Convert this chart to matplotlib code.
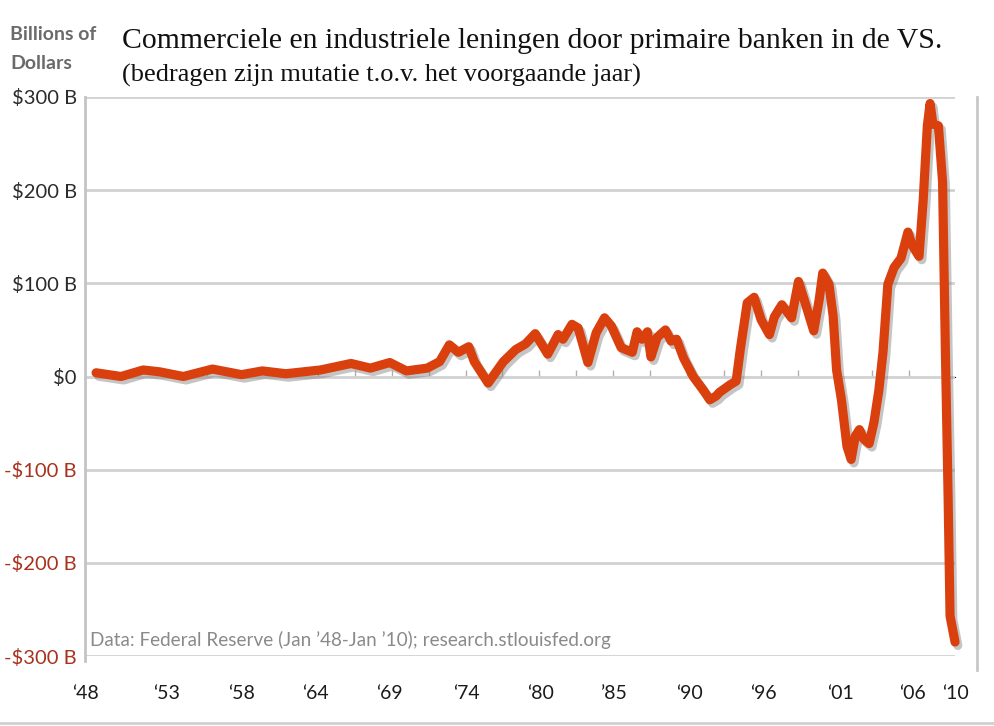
import matplotlib
matplotlib.use('Agg')
import matplotlib.pyplot as plt
import matplotlib.patheffects as pe
from matplotlib.lines import Line2D

# year (fractional) and change vs. previous year, billions of dollars
years = [1948.0, 1949.8, 1951.4, 1952.6, 1954.3, 1956.4, 1958.5, 1960.0, 1961.7,
         1964.2, 1966.4, 1967.8, 1969.2, 1970.4, 1971.9, 1972.8, 1973.5, 1974.15,
         1974.9, 1975.3, 1976.3, 1977.4, 1978.3, 1979.0, 1979.7, 1980.6, 1981.35,
         1981.7, 1982.35, 1982.8, 1983.5, 1984.1, 1984.7, 1985.2, 1985.9, 1986.7,
         1987.05, 1987.4, 1987.8, 1988.05, 1988.5, 1989.1, 1989.5, 1989.9, 1990.4,
         1991.1, 1991.8, 1992.3, 1992.75, 1993.0, 1993.75, 1994.2, 1994.5, 1995.0,
         1995.5, 1996.0, 1996.6, 1996.96, 1997.5, 1998.2, 1998.7, 1999.1, 1999.8,
         2000.2, 2000.45, 2000.9, 2001.2, 2001.45, 2001.8, 2002.2, 2002.5, 2002.8,
         2003.1, 2003.4, 2003.8, 2004.15, 2004.5, 2004.8, 2005.15, 2005.6, 2006.1,
         2006.6, 2006.9, 2007.4, 2007.7, 2008.0, 2008.2, 2008.4, 2008.8, 2009.1,
         2009.3, 2009.5, 2009.64, 2010.0]
change = [4, 0, 7, 5, 0, 8, 2, 6, 3,
          7, 14, 9, 15, 6, 9, 16, 34, 26,
          32, 16, -7, 16, 29, 35, 46, 24, 45,
          40, 56, 52, 15, 47, 63, 54, 31, 26,
          48, 40, 48, 21, 42, 50, 38, 40, 20,
          0, -14, -25, -21, -17, -9, -5, 29, 79,
          85, 61, 45, 64, 77, 63, 102, 83, 49,
          83, 111, 99, 65, 7, -25, -75, -89, -64,
          -57, -67, -72, -49, -15, 26, 99, 117, 127,
          155, 141, 129, 189, 269, 293, 271, 269, 209,
          30, -129, -257, -285]

y_ticks = [300, 200, 100, 0, -100, -200, -300]
y_labels = ['$300 B', '$200 B', '$100 B', '$0', '-$100 B', '-$200 B', '-$300 B']
x_label_pos = [1947.2, 1953.1, 1958.5, 1963.8, 1969.2, 1974.7, 1980.1, 1985.4,
               1990.8, 1996.2, 2001.7, 2006.9, 2010.0]
x_labels = ['\u201848', '\u201853', '\u201858', '\u201864', '\u201869', '\u201874',
            '\u201880', '\u201985', '\u201890', '\u201896', '\u201801', '\u201806',
            '\u201810']

fig = plt.figure(figsize=(9.94, 7.26), dpi=100)
ax = fig.add_axes([0.0855, 0.0964, 0.8753, 0.7700])

line_color = '#d9400e'
grid_color = '#d2d2d2'

ax.plot(years, change, color=line_color, lw=6.6, solid_capstyle='round',
        solid_joinstyle='round', clip_on=False,
        path_effects=[pe.SimpleLineShadow(offset=(2, -2.5), shadow_color='#808080', alpha=0.45),
                      pe.Normal()], zorder=3)

ax.set_xlim(1948, 2010)
ax.set_ylim(-300, 300)
ax.set_yticks(y_ticks)
ax.set_yticklabels(y_labels, fontsize=14.5, family='Lato')
for lab, v in zip(ax.get_yticklabels(), y_ticks):
    lab.set_color('#a8321e' if v < 0 else '#2b2b2b')
ax.yaxis.grid(True, color=grid_color, lw=2)
ax.tick_params(axis='y', length=0, pad=6)

ax.set_xticks(x_label_pos)
ax.set_xticklabels(x_labels, fontsize=14, family='Lato', color='#1a1a1a')
ax.tick_params(axis='x', length=0, pad=21)

for s in ['top', 'right', 'bottom']:
    ax.spines[s].set_visible(False)
ax.spines['left'].set_color('#c4c4c4')
ax.spines['left'].set_linewidth(2)
ax.spines['left'].set_bounds(-305, 300)

# small ticks on the zero line, every 32 months
sec = ax.secondary_xaxis(0.5)
sec.set_xticks([1948 + k * 8 / 3 for k in range(1, 24)])
sec.set_xticklabels([])
sec.tick_params(length=5, width=1, color='#b0b0b0', direction='out')
sec.spines['bottom'].set_visible(False)

fig.text(0.0101, 1 - 40 / 726, 'Billions of', fontsize=14, family='Lato',
         weight='bold', color='#6a6a6a', va='baseline')
fig.text(0.0101, 1 - 69 / 726, 'Dollars', fontsize=14, family='Lato',
         weight='bold', color='#6a6a6a', va='baseline')
fig.text(122 / 994, 1 - 48 / 726,
         'Commerciele en industriele leningen door primaire banken in de VS.',
         fontsize=21.4, family='Liberation Serif', color='#111111', va='baseline')
fig.text(122 / 994, 1 - 82 / 726,
         '(bedragen zijn mutatie t.o.v. het voorgaande jaar)',
         fontsize=19, family='Liberation Serif', color='#111111', va='baseline')
fig.text(90 / 994, 1 - 646 / 726,
         "Data: Federal Reserve (Jan \u201948-Jan \u201910); research.stlouisfed.org",
         fontsize=13.6, family='Lato', color='#8a8a8a', va='baseline')

# frame lines of the original picture
fig.add_artist(Line2D([977 / 994, 977 / 994], [1 - 97 / 726, 1 - 670 / 726],
                      color='#c8c8c8', lw=2))
fig.add_artist(Line2D([0, 1], [1 - 723 / 726, 1 - 723 / 726], color='#d0d0d0', lw=2))

fig.savefig('out.png', dpi=100, facecolor='white')
